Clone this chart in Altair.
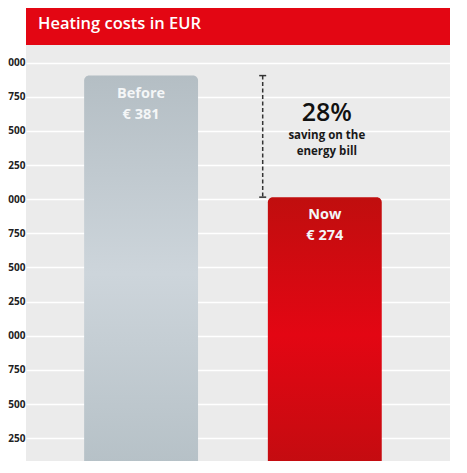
import altair as alt
import pandas as pd

# ---- data ----
categories = ["Before", "Now"]
bar_values = [2905, 2015]          # bar heights in axis units
bar_labels = ["€ 381", "€ 274"]
y_ticks = [250, 500, 750, 1000, 1250, 1500, 1750, 2000, 2250, 2500, 2750, 3000]
y_tick_labels = ["250", "500", "750", "000", "250", "500", "750", "000", "250", "500", "750", "000"]
title_text = "Heating costs in EUR"
saving_pct = "28%"
saving_lines = ["saving on the", "energy bill"]

df = pd.DataFrame({"cat": categories, "val": bar_values, "label": bar_labels})
ann = pd.DataFrame({"top": [bar_values[0]], "bottom": [bar_values[1]], "cat": [categories[1]]})

W, H = 424, 453
FONT = "Open Sans"

label_expr = "[" + ",".join("'%s'" % s for s in y_tick_labels) + "][datum.value/250-1]"

x_scale = alt.Scale(domain=categories, paddingInner=0.38, paddingOuter=0.344, align=0.46)
x_enc = alt.X("cat:N", sort=categories, axis=None, scale=x_scale)
y_enc = alt.Y("val:Q",
              scale=alt.Scale(domain=[83, 3400], nice=False, zero=False),
              axis=alt.Axis(values=y_ticks, labelExpr=label_expr, title=None, domain=False,
                            ticks=False, grid=True, gridColor="white", gridWidth=1.6,
                            labelFont=FONT, labelFontSize=10, labelFontWeight="bold",
                            labelColor="#222222", labelPadding=1))

base = alt.Chart(df)

grey_grad = alt.LinearGradient(gradient="linear", x1=0, x2=0, y1=0, y2=1, stops=[
    alt.GradientStop(color="#b4bec4", offset=0),
    alt.GradientStop(color="#cdd5db", offset=0.5),
    alt.GradientStop(color="#b5c0c6", offset=1)])
red_grad = alt.LinearGradient(gradient="linear", x1=0, x2=0, y1=0, y2=1, stops=[
    alt.GradientStop(color="#c00e0e", offset=0),
    alt.GradientStop(color="#e30613", offset=0.5),
    alt.GradientStop(color="#c20c10", offset=1)])

bar_before = base.transform_filter(alt.datum.cat == categories[0]).mark_bar(
    color=grey_grad, cornerRadiusTopLeft=5, cornerRadiusTopRight=5, clip=True).encode(
    x=x_enc, y=y_enc, y2=alt.datum(0))
bar_now = base.transform_filter(alt.datum.cat == categories[1]).mark_bar(
    color=red_grad, cornerRadiusTopLeft=5, cornerRadiusTopRight=5, clip=True).encode(
    x=x_enc, y=y_enc, y2=alt.datum(0))

name_text = base.mark_text(dy=18, font=FONT, fontSize=14.5, fontWeight="bold", color="#f4f6f7",
                           baseline="middle").encode(x=x_enc, y="val:Q", text="cat:N")
val_text = base.mark_text(dy=39, font=FONT, fontSize=14.5, fontWeight="bold", color="#f4f6f7",
                          baseline="middle").encode(x=x_enc, y="val:Q", text="label:N")

ab = alt.Chart(ann)
rule_x = 236.7
dash = ab.mark_rule(color="#333333", strokeWidth=1.5, strokeDash=[4, 2.5]).encode(
    x=alt.value(rule_x), y="top:Q", y2="bottom:Q")
cap_top = ab.mark_rule(color="#333333", strokeWidth=1.5).encode(
    x=alt.value(rule_x - 3.5), x2=alt.value(rule_x + 3.5), y="top:Q")
cap_bot = ab.mark_rule(color="#333333", strokeWidth=1.5).encode(
    x=alt.value(rule_x - 3.5), x2=alt.value(rule_x + 3.5), y="bottom:Q")

pct = ab.transform_calculate(t="'" + saving_pct + "'").mark_text(
    dy=37, dx=2, font=FONT, fontSize=25, fontWeight=600, color="#111111", baseline="middle").encode(
    x=x_enc, y="top:Q", text="t:N")
line1 = ab.transform_calculate(t="'" + saving_lines[0] + "'").mark_text(
    dy=60, dx=2, font=FONT, fontSize=11.5, fontWeight="bold", color="#1a1a1a", baseline="middle").encode(
    x=x_enc, y="top:Q", text="t:N")
line2 = ab.transform_calculate(t="'" + saving_lines[1] + "'").mark_text(
    dy=76, dx=2, font=FONT, fontSize=11.5, fontWeight="bold", color="#1a1a1a", baseline="middle").encode(
    x=x_enc, y="top:Q", text="t:N")

band = alt.Chart(pd.DataFrame({"t": [title_text]})).mark_rect(color="#e30613").encode(
    x=alt.value(0), x2=alt.value(W), y=alt.value(0), y2=alt.value(37))
band_text = alt.Chart(pd.DataFrame({"t": [title_text]})).mark_text(
    align="left", baseline="alphabetic", font=FONT, fontSize=16.5, fontWeight=600, color="white").encode(
    x=alt.value(12), y=alt.value(20.5), text="t:N")

chart = alt.layer(bar_before, bar_now, name_text, val_text, dash, cap_top, cap_bot,
                  pct, line1, line2, band, band_text).properties(
    width=W, height=H,
    autosize=alt.AutoSizeParams(type="none"),
    padding={"left": 18, "top": 0, "right": 8, "bottom": 0},
    background="white",
).configure_view(stroke=None, fill="#ebebeb")

chart.save("out.html", embed_options={"renderer": "svg", "actions": False})
